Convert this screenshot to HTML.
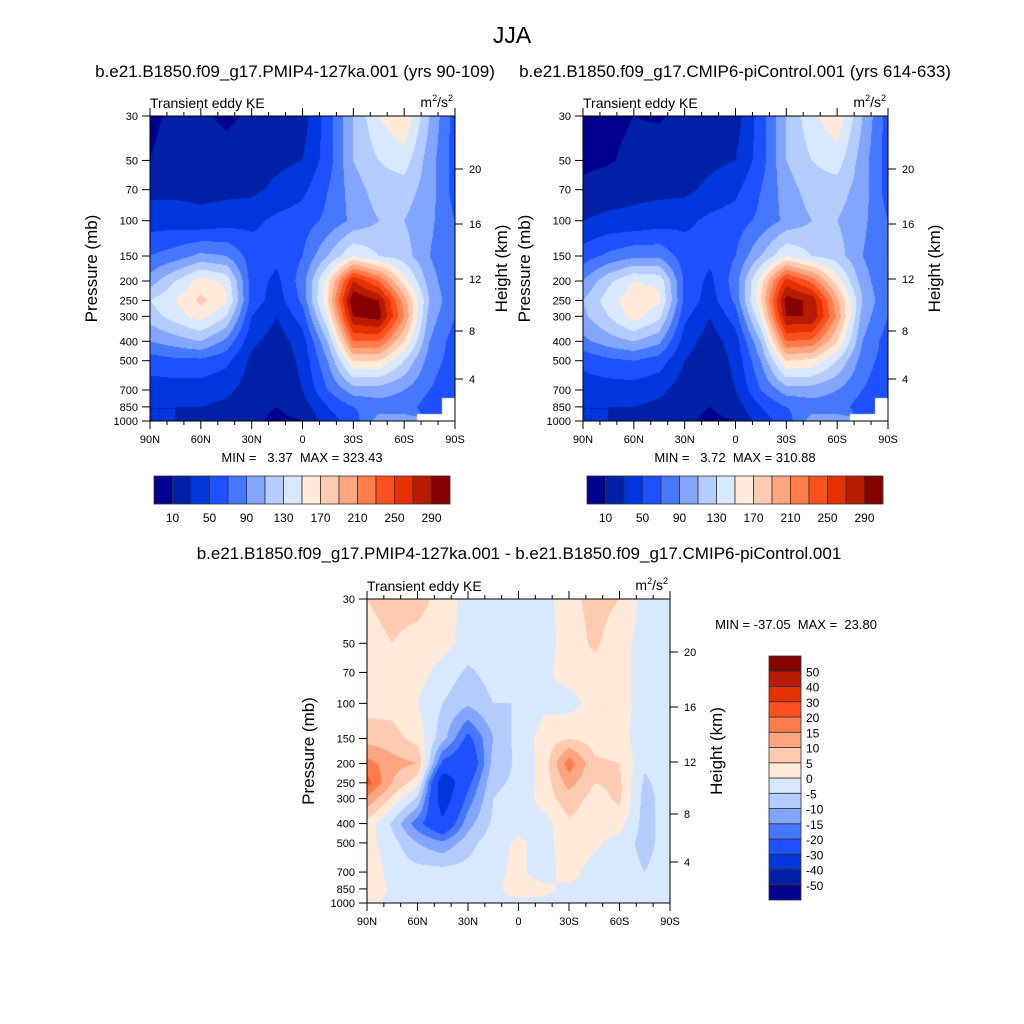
<!DOCTYPE html>
<html><head><meta charset="utf-8"><style>
body{margin:0;background:#fff;width:1024px;height:1024px;overflow:hidden;position:relative;font-family:"Liberation Sans",sans-serif}
canvas{position:absolute}
svg{position:absolute;left:0;top:0}
text{font-family:"Liberation Sans",sans-serif;fill:#000;white-space:pre}
</style></head><body>
<canvas id="c1"></canvas>
<canvas id="c2"></canvas>
<canvas id="c3"></canvas>
<svg id="s" width="1024" height="1024"></svg>
<script>
const lats=[90,75,60,45,30,15,0,-15,-30,-45,-60,-75,-90];
const plevs=[30,50,70,100,150,200,250,300,400,500,700,850,1000];
const N=null;
const pmip=[
[5,15,15,5,15,20,20,60,110,150,170,110,60],
[10,20,20,20,20,25,30,60,110,130,140,100,60],
[25,25,25,25,25,35,45,70,100,120,120,100,60],
[40,40,35,40,45,55,60,75,95,110,110,95,70],
[70,80,95,90,60,55,70,110,150,130,120,90,70],
[100,130,160,145,60,45,80,160,270,230,160,100,70],
[130,150,175,155,60,40,75,170,310,290,200,110,70],
[120,140,160,130,50,30,60,150,290,300,210,100,70],
[90,100,110,85,35,20,40,110,230,230,170,90,60],
[60,65,65,55,25,15,35,90,170,170,130,80,60],
[40,40,40,35,20,15,30,70,100,100,90,70,55],
[30,30,30,25,15,10,20,50,70,80,80,60,N],
[30,30,25,20,15,5,10,40,60,100,100,N,N]];
const ctrl=[
[5,5,10,8,15,20,20,60,110,145,165,110,60],
[5,8,15,20,20,25,30,60,110,130,140,100,60],
[15,20,25,25,25,35,45,70,100,120,120,100,60],
[30,35,35,40,45,55,60,75,95,110,110,95,70],
[60,75,85,85,60,55,70,110,150,130,120,90,70],
[90,125,150,145,65,45,80,160,260,225,160,100,70],
[110,140,165,155,65,40,75,170,300,285,195,110,70],
[105,130,160,135,55,30,60,150,290,290,205,100,70],
[85,100,110,95,40,20,40,110,230,225,170,90,60],
[55,65,70,60,30,15,35,90,170,165,130,80,60],
[40,40,40,35,20,15,30,70,100,100,90,70,55],
[30,30,30,25,15,10,20,50,70,80,80,60,N],
[30,30,25,20,15,5,10,40,60,100,100,N,N]];
const diff=[
[5,7,7,3,-2,-3,-3,-2,3,7,5,-2,-3],
[3,5,3,2,-2,-3,-3,-2,2,6,2,-2,-3],
[3,3,2,-2,-6,-3,-2,-1,2,3,2,-2,-3],
[3,3,0,-5,-9,-5,-5,-1,-2,2,2,-2,-3],
[8,7,3,-8,-22,-10,-3,2,5,3,2,-3,-2],
[17,12,10,-22,-28,-8,-4,2,18,6,5,-4,-2],
[22,10,2,-38,-22,-6,-4,2,12,5,6,-6,-2],
[14,4,-6,-36,-18,-5,-3,2,8,3,6,-7,-2],
[3,-6,-18,-28,-12,-4,-2,-2,4,2,2,-7,-2],
[2,-3,-10,-14,-7,-2,1,-2,3,1,-2,-7,-2],
[4,-2,-3,-3,-3,-1,1,-2,2,-2,-2,-5,-2],
[4,-1,-2,-2,-2,-1,2,1,-1,-2,-2,-2,-2],
[3,-2,-2,-2,-2,-1,-1,-1,-2,-2,-2,-2,-2]];
const levA=[10,30,50,70,90,110,130,150,170,190,210,230,250,270,290];
const levD=[-50,-40,-30,-20,-15,-10,-5,0,5,10,15,20,30,40,50];
const cbLabA=["10","50","90","130","170","210","250","290"];
const cols=["#00008C","#0020A8","#0037DD","#1E50FF","#4678FF","#82A5FF","#B4CCFF","#D7E8FF","#FFE9D9","#FFCBB0","#FFA580","#FF7D4B","#FF4F1E","#E53000","#B81C00","#870000"];
const pTicks=[30,50,70,100,150,200,250,300,400,500,700,850,1000];
const latTicks=[90,60,30,0,-30,-60,-90];
const latLab=["90N","60N","30N","0","30S","60S","90S"];
const hTicks=[20,16,12,8,4];
const hOff=[53,108,163,215,263];

function hex(c){return [parseInt(c.substr(1,2),16),parseInt(c.substr(3,2),16),parseInt(c.substr(5,2),16)];}
const rgb=cols.map(hex);
function level(v,lev){let i=0;while(i<lev.length&&v>=lev[i])i++;return i;}
function draw(id,X,Y,W,H,data,lev){
  const cv=document.getElementById(id);cv.width=W;cv.height=H;cv.style.left=X+'px';cv.style.top=Y+'px';
  const ctx=cv.getContext('2d');const img=ctx.createImageData(W,H);
  const L0=Math.log(30),L1=Math.log(1000);const lp=plevs.map(p=>Math.log(p));
  for(let py=0;py<H;py++){
    const l=L0+(py+0.5)/H*(L1-L0);let r=0;while(r<lp.length-2&&l>lp[r+1])r++;
    const fy=Math.min(1,Math.max(0,(l-lp[r])/(lp[r+1]-lp[r])));
    for(let px=0;px<W;px++){
      const gx=(px+0.5)/W*(lats.length-1);let c=Math.min(lats.length-2,Math.floor(gx));const fx=gx-c;
      const a=data[r][c],b=data[r][c+1],d=data[r+1][c],e=data[r+1][c+1];
      let k=(py*W+px)*4;let vals=[a,b,d,e];
      if(vals.some(v=>v===null)){
        const nr=fy<0.5?r:r+1,nc=fx<0.5?c:c+1;const nv=data[nr][nc];
        if(nv===null){img.data[k]=255;img.data[k+1]=255;img.data[k+2]=255;img.data[k+3]=255;continue;}
        vals=vals.map(v=>v===null?nv:v);}
      const v=(vals[0]*(1-fx)+vals[1]*fx)*(1-fy)+(vals[2]*(1-fx)+vals[3]*fx)*fy;
      const cc=rgb[level(v,lev)];img.data[k]=cc[0];img.data[k+1]=cc[1];img.data[k+2]=cc[2];img.data[k+3]=255;
    }}
  ctx.putImageData(img,0,0);
}
const S=document.getElementById('s');const NS="http://www.w3.org/2000/svg";
function el(t,at,txt){const e=document.createElementNS(NS,t);for(const k in at)e.setAttribute(k,at[k]);if(txt!==undefined)e.textContent=txt;S.appendChild(e);return e;}
function txt(x,y,s,size,anchor,name){const e=el('text',{x:x,y:y,'font-size':size,'text-anchor':anchor||'middle'},s);

return e;}
function axes(X,Y,W,H,pfx){
  const b=el('rect',{x:X,y:Y,width:W,height:H,fill:'none',stroke:'#000','stroke-width':1});
  
  
  const yOf=p=>Y+Math.log(p/30)/Math.log(1000/30)*H;
  const xOf=la=>X+(90-la)/180*W;
  pTicks.forEach(p=>{const y=yOf(p);el('line',{x1:X-8,x2:X,y1:y,y2:y,stroke:'#000'});
    txt(X-12,y+4,String(p),11,'end',pfx+'-y-tick-label');});
  for(let la=90;la>=-90;la-=10){const x=xOf(la);const m=la%30===0?8:4;
    el('line',{x1:x,x2:x,y1:Y+H,y2:Y+H+m,stroke:'#000'});el('line',{x1:x,x2:x,y1:Y-m,y2:Y,stroke:'#000'});}
  latTicks.forEach((la,i)=>{txt(xOf(la),Y+H+22,latLab[i],11,'middle',pfx+'-x-tick-label');});
  hTicks.forEach((h,i)=>{const y=Y+hOff[i];el('line',{x1:X+W,x2:X+W+8,y1:y,y2:y,stroke:'#000'});
    txt(X+W+14,y+4,String(h),11,'start',pfx+'-height-tick-label');});
  txt(X,Y-8,'Transient eddy KE',14,'start',pfx+'-subtitle');
  const u=el('text',{x:X+W-2,y:Y-9,'font-size':14,'text-anchor':'end'});u.innerHTML='m<tspan dy="-6" font-size="9">2</tspan><tspan dy="6">/s</tspan><tspan dy="-6" font-size="9">2</tspan>';
  
  
  const yt=el('text',{x:0,y:0,'font-size':17,'text-anchor':'middle',transform:`translate(${X-53},${Y+H/2}) rotate(-90)`},'Pressure (mb)');
  
  
  const ht=el('text',{x:0,y:0,'font-size':17,'text-anchor':'middle',transform:`translate(${X+W+52},${Y+H/2}) rotate(-90)`},'Height (km)');
  
  
}
function hbar(X,Y,W,H,pfx){
  const w=W/16;cols.forEach((c,i)=>{const r=el('rect',{x:X+i*w,y:Y,width:w,height:H,fill:c,stroke:'#333','stroke-width':0.8});
    
    });
  cbLabA.forEach((s,i)=>txt(X+(1+2*i)*w,Y+H+18,s,12,'middle',pfx+'-colorbar-label'));
}
draw('c1',150,116,305,305,pmip,levA);
draw('c2',583,116,305,305,ctrl,levA);
draw('c3',367,599,303,304,diff,levD);
axes(150,116,305,305,'pmip');axes(583,116,305,305,'ctrl');axes(367,599,303,304,'diff');
hbar(154,476,296,28,'pmip');hbar(587,476,296,28,'ctrl');
const vh=244/16;cols.forEach((c,i)=>{const r=el('rect',{x:769,y:656+(15-i)*vh,width:32,height:vh,fill:c,stroke:'#333','stroke-width':0.8});

});
levD.forEach((v,i)=>txt(806,656+(15-i)*vh+5,String(v),12,'start','diff-colorbar-label'));
txt(512,43,'JJA',23,'middle','main-title');
txt(295,77,'b.e21.B1850.f09_g17.PMIP4-127ka.001 (yrs 90-109)',17,'middle','pmip-title');
txt(735,77,'b.e21.B1850.f09_g17.CMIP6-piControl.001 (yrs 614-633)',17,'middle','ctrl-title');
txt(519,559,'b.e21.B1850.f09_g17.PMIP4-127ka.001 - b.e21.B1850.f09_g17.CMIP6-piControl.001',17,'middle','diff-title');
txt(302,462,'MIN =   3.37  MAX = 323.43',13,'middle','pmip-minmax');
txt(735,462,'MIN =   3.72  MAX = 310.88',13,'middle','ctrl-minmax');
txt(796,629,'MIN = -37.05  MAX =  23.80',13,'middle','diff-minmax');
</script></body></html>
